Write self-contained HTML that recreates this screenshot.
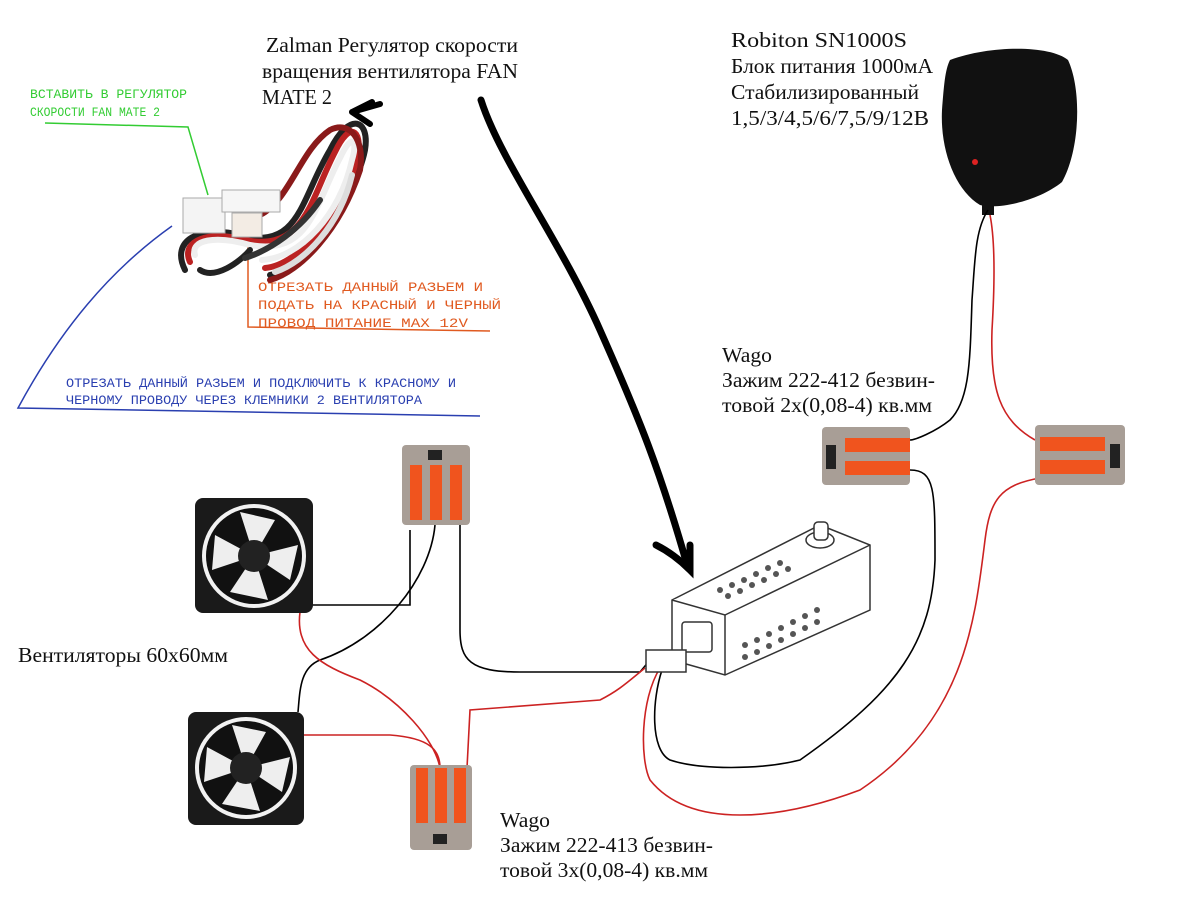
<!DOCTYPE html>
<html><head><meta charset="utf-8"><style>
html,body{margin:0;padding:0;background:#fff}
svg{display:block}
.s{font-family:"Liberation Serif","Noto Serif CJK SC",serif;fill:#111}
.m{font-family:"Liberation Mono","DejaVu Sans Mono",monospace;font-size:13px}
</style></head><body>
<svg width="1200" height="900" viewBox="0 0 1200 900" xmlns="http://www.w3.org/2000/svg">
<rect width="1200" height="900" fill="#fff"/>
<text class="s" font-size="21" x="266" y="52" textLength="252" lengthAdjust="spacingAndGlyphs">Zalman Регулятор скорости</text>
<text class="s" font-size="21" x="262" y="78" textLength="256" lengthAdjust="spacingAndGlyphs">вращения вентилятора FAN</text>
<text class="s" font-size="21" x="262" y="104" textLength="70" lengthAdjust="spacingAndGlyphs">MATE 2</text>
<text class="m" fill="#3c3" x="30" y="98" textLength="157" lengthAdjust="spacingAndGlyphs">ВСТАВИТЬ В РЕГУЛЯТОР</text>
<text class="m" fill="#3c3" x="30" y="116" textLength="130" lengthAdjust="spacingAndGlyphs">СКОРОСТИ FAN MATE 2</text>
<path d="M45 123 L188 127 L208 195" stroke="#3c3" stroke-width="1.5" fill="none"/>
<text class="m" fill="#e05a20" x="258" y="291" textLength="225" lengthAdjust="spacingAndGlyphs">ОТРЕЗАТЬ ДАННЫЙ РАЗЬЕМ И</text>
<text class="m" fill="#e05a20" x="258" y="309" textLength="243" lengthAdjust="spacingAndGlyphs">ПОДАТЬ НА КРАСНЫЙ И ЧЕРНЫЙ</text>
<text class="m" fill="#e05a20" x="258" y="327" textLength="210" lengthAdjust="spacingAndGlyphs">ПРОВОД ПИТАНИЕ MAX 12V</text>
<path d="M248 232 L248 327 L490 331" stroke="#e05a20" stroke-width="1.5" fill="none"/>
<text class="m" fill="#2a3fb0" x="66" y="387" textLength="390" lengthAdjust="spacingAndGlyphs">ОТРЕЗАТЬ ДАННЫЙ РАЗЬЕМ И ПОДКЛЮЧИТЬ К КРАСНОМУ И</text>
<text class="m" fill="#2a3fb0" x="66" y="404" textLength="356" lengthAdjust="spacingAndGlyphs">ЧЕРНОМУ ПРОВОДУ ЧЕРЕЗ КЛЕМНИКИ 2 ВЕНТИЛЯТОРА</text>
<path d="M172 226 C110 270 60 330 18 408 L480 416" stroke="#2a3fb0" stroke-width="1.5" fill="none"/>
<g fill="none" stroke-width="6" stroke-linecap="round">
<path d="M185 270 C170 240 200 225 240 235 C300 250 300 200 330 150 C350 110 370 120 365 150 C355 200 300 270 270 275" stroke="#222"/>
<path d="M190 262 C180 240 210 230 245 240 C305 252 310 200 335 152 C350 120 362 130 358 155 C345 210 300 265 265 268" stroke="#b22"/>
<path d="M195 255 C190 240 215 235 250 245 C310 256 315 205 340 158 C352 132 358 140 352 160 C340 215 300 258 262 260" stroke="#eee"/>
<path d="M200 270 C215 280 240 262 250 250" stroke="#222"/>
<path d="M270 280 C300 272 340 230 360 170 C365 140 350 120 330 130 C300 150 290 200 260 215" stroke="#8a1a1a"/>
<path d="M275 272 C305 262 340 225 352 175" stroke="#ddd"/>
<path d="M245 258 C270 250 300 230 320 200" stroke="#333"/>
</g>
<rect x="183" y="198" width="42" height="35" fill="#f4f4f4" stroke="#aaa"/>
<rect x="222" y="190" width="58" height="22" fill="#f6f6f6" stroke="#aaa"/>
<rect x="232" y="213" width="30" height="24" fill="#f3ece4" stroke="#aaa"/>
<path d="M352 112 L372 102 M352 112 L370 124 M352 112 L380 104" stroke="#000" stroke-width="6" fill="none" stroke-linecap="round"/>
<path d="M481 100 C500 160 560 240 600 330 C640 420 660 470 688 568" stroke="#000" stroke-width="7" fill="none" stroke-linecap="round"/>
<path d="M656 545 C670 552 680 560 690 570 L690 545" stroke="#000" stroke-width="7" fill="none" stroke-linecap="round"/>
<text class="s" font-size="21" x="731" y="47" textLength="176" lengthAdjust="spacingAndGlyphs">Robiton SN1000S</text>
<text class="s" font-size="21" x="731" y="73" textLength="202" lengthAdjust="spacingAndGlyphs">Блок питания 1000мА</text>
<text class="s" font-size="21" x="731" y="99" textLength="188" lengthAdjust="spacingAndGlyphs">Стабилизированный</text>
<text class="s" font-size="21" x="731" y="125" textLength="198" lengthAdjust="spacingAndGlyphs">1,5/3/4,5/6/7,5/9/12В</text>
<path d="M950 60 C990 45 1050 45 1068 60 C1082 90 1080 150 1062 182 C1040 200 1000 210 980 205 C955 190 940 150 942 110 C944 85 945 70 950 60Z" fill="#111"/>
<rect x="982" y="195" width="12" height="20" fill="#111"/>
<circle cx="975" cy="162" r="3" fill="#d22"/>
<text class="s" font-size="21" x="722" y="362" textLength="50" lengthAdjust="spacingAndGlyphs">Wago</text>
<text class="s" font-size="21" x="722" y="387" textLength="213" lengthAdjust="spacingAndGlyphs">Зажим 222-412 безвин-</text>
<text class="s" font-size="21" x="722" y="412" textLength="210" lengthAdjust="spacingAndGlyphs">товой 2х(0,08-4) кв.мм</text>
<text class="s" font-size="21" x="18" y="662" textLength="210" lengthAdjust="spacingAndGlyphs">Вентиляторы 60х60мм</text>
<text class="s" font-size="21" x="500" y="827" textLength="50" lengthAdjust="spacingAndGlyphs">Wago</text>
<text class="s" font-size="21" x="500" y="852" textLength="213" lengthAdjust="spacingAndGlyphs">Зажим 222-413 безвин-</text>
<text class="s" font-size="21" x="500" y="877" textLength="208" lengthAdjust="spacingAndGlyphs">товой 3х(0,08-4) кв.мм</text>
<g fill="none" stroke-width="1.6">
<path d="M988 210 C975 230 975 260 972 300 C970 360 970 400 950 420 C935 432 915 440 910 440" stroke="#000"/>
<path d="M990 215 C995 240 995 280 992 330 C990 390 1000 420 1035 440" stroke="#c22"/>
<path d="M910 470 C935 470 935 490 935 560 C932 640 900 690 800 760 C760 770 700 770 670 760 C650 750 652 700 662 670" stroke="#000"/>
<path d="M1040 478 C1000 485 990 500 985 540 C975 620 965 720 860 790 C780 820 690 830 650 780 C640 760 640 700 660 668" stroke="#c22"/>
<path d="M313 605 L410 605 L410 530" stroke="#000"/>
<path d="M460 525 L460 630 C460 660 470 672 520 672 L640 672 L650 660" stroke="#000"/>
<path d="M435 525 C430 580 380 640 320 660 C300 668 300 690 298 712" stroke="#000"/>
<path d="M300 612 C295 650 320 665 360 680 C400 700 435 740 440 768" stroke="#c22"/>
<path d="M304 735 L390 735 C430 738 440 750 440 768" stroke="#c22"/>
<path d="M467 768 L470 710 L600 700 C620 690 630 680 645 668" stroke="#c22"/>
</g>
<rect x="822" y="427" width="88" height="58" rx="4" fill="#a89e96"/>
<rect x="826" y="445" width="10" height="24" fill="#222"/>
<rect x="845" y="438" width="65" height="14" fill="#f0541e"/>
<rect x="845" y="461" width="65" height="14" fill="#f0541e"/>
<rect x="1035" y="425" width="90" height="60" rx="4" fill="#a89e96"/>
<rect x="1110" y="444" width="10" height="24" fill="#222"/>
<rect x="1040" y="437" width="65" height="14" fill="#f0541e"/>
<rect x="1040" y="460" width="65" height="14" fill="#f0541e"/>
<rect x="402" y="445" width="68" height="80" rx="4" fill="#a89e96"/>
<rect x="428" y="450" width="14" height="10" fill="#222"/>
<rect x="410" y="465" width="12" height="55" fill="#f0541e"/>
<rect x="430" y="465" width="12" height="55" fill="#f0541e"/>
<rect x="450" y="465" width="12" height="55" fill="#f0541e"/>
<rect x="410" y="765" width="62" height="85" rx="4" fill="#a89e96"/>
<rect x="433" y="834" width="14" height="10" fill="#222"/>
<rect x="416" y="768" width="12" height="55" fill="#f0541e"/>
<rect x="435" y="768" width="12" height="55" fill="#f0541e"/>
<rect x="454" y="768" width="12" height="55" fill="#f0541e"/>
<rect x="195" y="498" width="118" height="115" rx="8" fill="#1a1a1a"/>
<circle cx="254" cy="556" r="52" fill="#f2f2f2"/><circle cx="254" cy="556" r="48" fill="#111"/>
<path d="M254 556 L240 512 L275 520Z M254 556 L298 545 L290 580Z M254 556 L268 600 L230 592Z M254 556 L212 570 L215 535Z" fill="#eee"/>
<circle cx="254" cy="556" r="16" fill="#222"/>
<rect x="188" y="712" width="116" height="113" rx="8" fill="#1a1a1a"/>
<circle cx="246" cy="768" r="51" fill="#f2f2f2"/><circle cx="246" cy="768" r="47" fill="#111"/>
<path d="M246 768 L232 725 L266 732Z M246 768 L290 757 L282 792Z M246 768 L260 811 L222 804Z M246 768 L204 782 L207 747Z" fill="#eee"/>
<circle cx="246" cy="768" r="16" fill="#222"/>
<g fill="#fff" stroke="#333" stroke-width="1.5">
<path d="M672 600 L820 525 L870 545 L870 610 L725 675 L672 660Z"/>
<path d="M672 600 L725 615 L870 545"/>
<path d="M725 615 L725 675"/>
<rect x="682" y="622" width="30" height="30" rx="3"/>
<rect x="646" y="650" width="40" height="22"/>
<ellipse cx="820" cy="540" rx="14" ry="8"/>
<rect x="814" y="522" width="14" height="18" rx="4"/>
</g>
<g fill="#555">
<circle cx="720" cy="590" r="3"/><circle cx="732" cy="585" r="3"/><circle cx="744" cy="580" r="3"/><circle cx="756" cy="574" r="3"/><circle cx="768" cy="568" r="3"/><circle cx="780" cy="563" r="3"/>
<circle cx="728" cy="596" r="3"/><circle cx="740" cy="591" r="3"/><circle cx="752" cy="585" r="3"/><circle cx="764" cy="580" r="3"/><circle cx="776" cy="574" r="3"/><circle cx="788" cy="569" r="3"/>
<circle cx="745" cy="645" r="3"/><circle cx="757" cy="640" r="3"/><circle cx="769" cy="634" r="3"/><circle cx="781" cy="628" r="3"/><circle cx="793" cy="622" r="3"/><circle cx="805" cy="616" r="3"/><circle cx="817" cy="610" r="3"/>
<circle cx="745" cy="657" r="3"/><circle cx="757" cy="652" r="3"/><circle cx="769" cy="646" r="3"/><circle cx="781" cy="640" r="3"/><circle cx="793" cy="634" r="3"/><circle cx="805" cy="628" r="3"/><circle cx="817" cy="622" r="3"/>
</g>
</svg>
</body></html>
